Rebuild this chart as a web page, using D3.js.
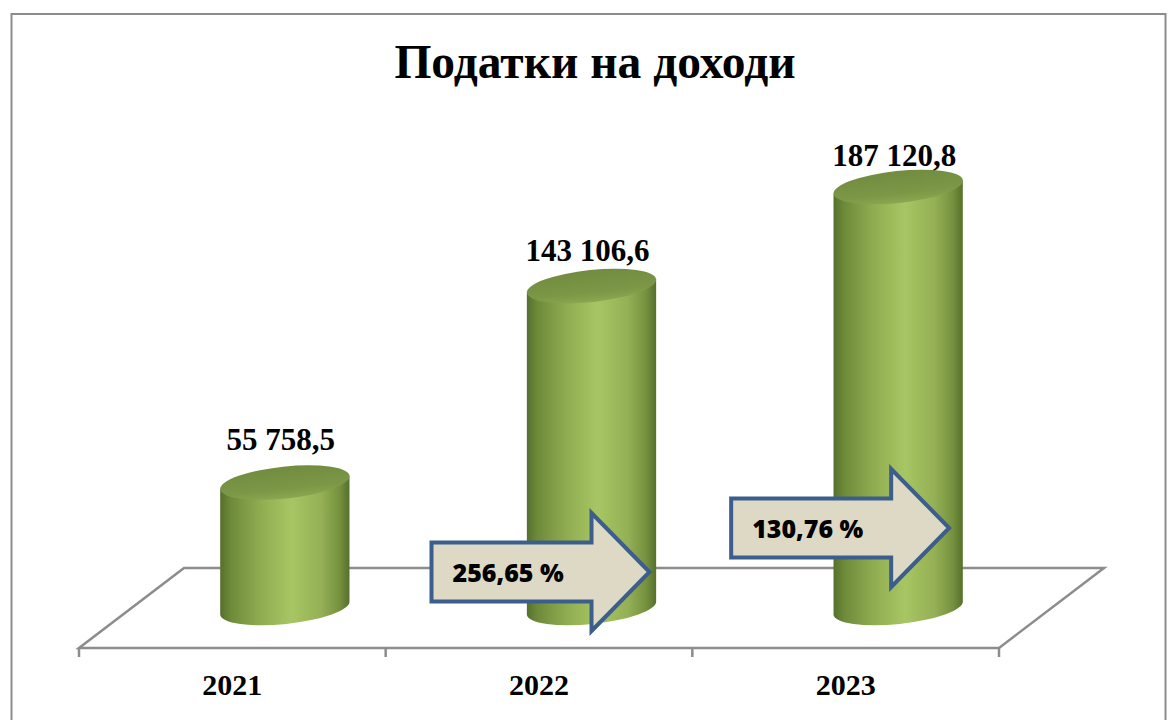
<!DOCTYPE html>
<html>
<head>
<meta charset="utf-8">
<script src="https://cdn.jsdelivr.net/npm/d3@7"></script>
<style>
  body { margin: 0; background: #fff; }
  svg { display: block; }
</style>
</head>
<body>
<div id="chart"></div>
<script>
// Податки на доходи — 3D cylinder column chart

const years = ["2021", "2022", "2023"];
const values = [55758.5, 143106.6, 187120.8];
const growthYears = ["2022", "2023"];
const growth = [256.65, 130.76];

const width = 1171,
    height = 720,
    floor = ({ front: 648, back: 568, left: 79, right: 999, depth: 105 }),
    rx = 65, ry = 16, tilt = -6;

// manual placement of the growth arrows (offset from the cylinder, centre y)
const arrowLayout = [{ dx: 0, cy: 572 }, { dx: -7, cy: 528 }];

const locale = d3.formatLocale({ decimal: ",", thousands: " ", grouping: [3], currency: ["", ""] });
const fmtValue = locale.format(",.1f"),
    fmtPct = locale.format(".2f");

const svg = d3.select("#chart")
    .append("svg")
    .attr("width", width)
    .attr("height", height);

const defs = svg.append("defs");

const bodyGrad = defs.append("linearGradient")
    .attr("id", "body")
    .attr("x1", 0).attr("x2", 1).attr("y1", 0).attr("y2", 0);
[[0, "#55702c"], [0.08, "#6d8a3a"], [0.3, "#8fab50"], [0.55, "#a7c663"], [0.78, "#95b055"], [0.92, "#76923f"], [1, "#55702b"]]
    .forEach(([o, c]) => bodyGrad.append("stop").attr("offset", o).attr("stop-color", c));

const topGrad = defs.append("linearGradient")
    .attr("id", "top")
    .attr("x1", 0).attr("x2", 0).attr("y1", 0).attr("y2", 1);
[[0, "#728c40"], [0.7, "#7c9746"], [1, "#8ba750"]]
    .forEach(([o, c]) => topGrad.append("stop").attr("offset", o).attr("stop-color", c));

// chart border
svg.append("rect")
    .attr("x", 11.5)
    .attr("y", 14)
    .attr("width", 1154)
    .attr("height", 720)
    .attr("fill", "#fff")
    .attr("stroke", "#8c8c8c")
    .attr("stroke-width", 2);

const x = d3.scaleBand()
    .domain(years)
    .range([floor.left, floor.right]);

const yFloor = (floor.front + floor.back) / 2;

const y = d3.scaleLinear()
    .domain([0, 200000])
    .range([yFloor, yFloor - 450]);

// labels sit on the back plane of the 3D box
const yBack = d3.scaleLinear()
    .domain([0, 200000])
    .range([floor.back + 2, floor.back + 2 - 432]);

const cx = d => x(d) + x.bandwidth() / 2 + floor.depth / 2;

// title
svg.append("text")
    .attr("x", 595)
    .attr("y", 78)
    .attr("text-anchor", "middle")
    .attr("font-family", "'Liberation Serif', 'Times New Roman', serif")
    .attr("font-weight", "bold")
    .attr("font-size", 47.5)
    .text("Податки на доходи");

// floor of the 3D box
svg.append("path")
    .attr("d", `M${floor.left},${floor.front} L${floor.right},${floor.front} L${floor.right + floor.depth},${floor.back} L${floor.left + floor.depth},${floor.back} Z`)
    .attr("fill", "#fff")
    .attr("stroke", "#8c8c8c")
    .attr("stroke-width", 2.5)
    .attr("stroke-linejoin", "miter");

// bottom axis ticks at band edges
svg.append("g")
    .selectAll("line")
    .data(d3.range(years.length + 1))
    .join("line")
    .attr("x1", i => floor.left + i * x.step())
    .attr("x2", i => floor.left + i * x.step())
    .attr("y1", floor.front)
    .attr("y2", floor.front + 9)
    .attr("stroke", "#8c8c8c")
    .attr("stroke-width", 2.5);

svg.append("g")
    .selectAll("text")
    .data(years)
    .join("text")
    .attr("x", d => x(d) + x.bandwidth() / 2)
    .attr("y", 695)
    .attr("text-anchor", "middle")
    .attr("font-family", "'Liberation Serif', 'Times New Roman', serif")
    .attr("font-weight", "bold")
    .attr("font-size", 30)
    .text(d => d);

// cylinders
const a = rx * Math.cos(tilt * Math.PI / 180),
    b = rx * Math.sin(-tilt * Math.PI / 180);

const bars = svg.append("g")
    .selectAll("g")
    .data(years.map((yr, i) => ({ year: yr, value: values[i] })))
    .join("g");

bars.append("path")
    .attr("d", d => {
        const c = cx(d.year), yt = y(d.value), yb = y(0);
        return `M${c - a},${yt + b} L${c - a},${yb + b} A${rx},${ry} ${tilt} 0 0 ${c + a},${yb - b} L${c + a},${yt - b} Z`;
    })
    .attr("fill", "url(#body)");

bars.append("ellipse")
    .attr("cx", d => cx(d.year))
    .attr("cy", d => y(d.value))
    .attr("rx", rx)
    .attr("ry", ry)
    .attr("transform", d => `rotate(${tilt},${cx(d.year)},${y(d.value)})`)
    .attr("fill", "url(#top)");

bars.append("text")
    .attr("x", d => cx(d.year) - 4)
    .attr("y", d => yBack(d.value))
    .attr("text-anchor", "middle")
    .attr("font-family", "'Liberation Serif', 'Times New Roman', serif")
    .attr("font-weight", "bold")
    .attr("font-size", 31)
    .text(d => fmtValue(d.value));

// growth arrows
const arrows = svg.append("g")
    .selectAll("g")
    .data(growthYears.map((yr, i) => ({ year: yr, pct: growth[i], lay: arrowLayout[i] })))
    .join("g");

arrows.append("path")
    .attr("d", d => {
        const h = cx(d.year) + d.lay.dx, l = h - 160, t = h + 58, c = d.lay.cy;
        return `M${l},${c - 29.5} L${h},${c - 29.5} L${h},${c - 59} L${t},${c} L${h},${c + 59} L${h},${c + 29.5} L${l},${c + 29.5} Z`;
    })
    .attr("fill", "#ddd9c4")
    .attr("stroke", "#3b5e8c")
    .attr("stroke-width", 4)
    .attr("stroke-linejoin", "miter");

arrows.append("text")
    .attr("x", d => cx(d.year) + d.lay.dx - 160 + 21)
    .attr("y", d => d.lay.cy + 10)
    .attr("font-family", "'Open Sans', 'Liberation Sans', sans-serif")
    .attr("font-weight", 800)
    .attr("font-size", 25)
    .attr("fill", "#000")
    .text(d => fmtPct(d.pct) + " %");
</script>
</body>
</html>
